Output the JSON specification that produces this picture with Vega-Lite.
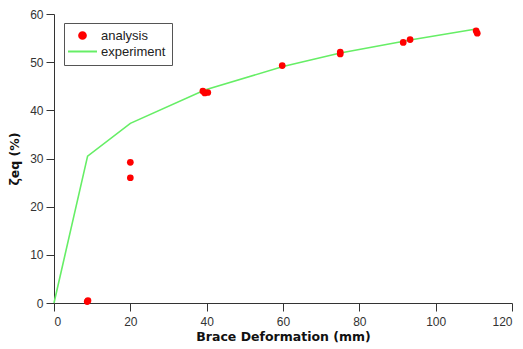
{
  "$schema": "https://vega.github.io/schema/vega-lite/v6.json",
  "autosize": "none",
  "width": 458,
  "height": 289,
  "padding": {"left": 54, "top": 14, "right": 11, "bottom": 46},
  "background": "white",
  "config": {
    "view": {"stroke": null},
    "font": "Liberation Sans",
    "axis": {
      "grid": false,
      "domainColor": "#333333",
      "tickColor": "#333333",
      "tickSize": 8,
      "labelColor": "#333333",
      "labelFontSize": 12,
      "labelFont": "Liberation Sans",
      "titleFont": "DejaVu Sans",
      "titleFontSize": 12.5,
      "titleFontWeight": "bold",
      "titleColor": "#111111"
    },
    "legend": {
      "title": null, "orient": "none", "legendX": 10, "legendY": 9,
      "strokeColor": "#555555", "padding": 6, "symbolOffset": 6,
      "labelFontSize": 13, "labelFont": "Liberation Sans", "labelColor": "#222222",
      "symbolSize": 841, "symbolStrokeWidth": 2, "labelOffset": 12, "rowPadding": 2,
      "fillColor": "white"
    }
  },
  "datasets": {
    "analysis": [
      {"x": 8.7, "y": 0.3, "series": "analysis"},
      {"x": 8.9, "y": 0.5, "series": "analysis"},
      {"x": 20.0, "y": 29.2, "series": "analysis"},
      {"x": 20.0, "y": 26.0, "series": "analysis"},
      {"x": 39.0, "y": 44.0, "series": "analysis"},
      {"x": 39.5, "y": 43.6, "series": "analysis"},
      {"x": 40.3, "y": 43.7, "series": "analysis"},
      {"x": 59.8, "y": 49.3, "series": "analysis"},
      {"x": 75.0, "y": 52.1, "series": "analysis"},
      {"x": 75.0, "y": 51.7, "series": "analysis"},
      {"x": 91.5, "y": 54.1, "series": "analysis"},
      {"x": 93.3, "y": 54.7, "series": "analysis"},
      {"x": 110.6, "y": 56.5, "series": "analysis"},
      {"x": 110.9, "y": 56.0, "series": "analysis"}
    ],
    "experiment": [
      {"x": 0, "y": 0, "series": "experiment"},
      {"x": 8.8, "y": 30.5, "series": "experiment"},
      {"x": 20.0, "y": 37.3, "series": "experiment"},
      {"x": 39.5, "y": 44.2, "series": "experiment"},
      {"x": 60.0, "y": 49.1, "series": "experiment"},
      {"x": 75.0, "y": 51.9, "series": "experiment"},
      {"x": 92.0, "y": 54.4, "series": "experiment"},
      {"x": 93.3, "y": 54.6, "series": "experiment"},
      {"x": 110.6, "y": 56.9, "series": "experiment"}
    ]
  },
  "layer": [
    {
      "data": {"name": "experiment"},
      "mark": {"type": "line", "strokeWidth": 1.6, "interpolate": "linear"},
      "encoding": {
        "x": {"field": "x", "type": "quantitative", "scale": {"domain": [0, 120]}, "axis": {"values": [0, 20, 40, 60, 80, 100, 120], "title": "Brace Deformation (mm)", "titlePadding": 3, "labelPadding": 5}},
        "y": {"field": "y", "type": "quantitative", "scale": {"domain": [0, 60]}, "axis": {"values": [0, 10, 20, 30, 40, 50, 60], "title": "ζeq (%)", "titlePadding": 8, "labelPadding": 3}},
        "color": {"field": "series", "type": "nominal", "scale": {"domain": ["analysis", "experiment"], "range": ["#ff0000", "#66ee66"]},
          "legend": {"labelExpr": "datum.label + '\u2003\u2003'", "encode": {"symbols": {"update": {"stroke": {"scale": "color", "field": "value"}, "opacity": {"value": 1}, "size": {"signal": "datum.value === 'experiment' ? 841 : 45"}}}}}}
      }
    },
    {
      "data": {"name": "analysis"},
      "mark": {"type": "point", "filled": true, "size": 45, "opacity": 1},
      "encoding": {
        "x": {"field": "x", "type": "quantitative"},
        "y": {"field": "y", "type": "quantitative"},
        "color": {"field": "series", "type": "nominal", "scale": {"domain": ["analysis", "experiment"], "range": ["#ff0000", "#66ee66"]},
          "legend": {"labelExpr": "datum.label + '\u2003\u2003'", "encode": {"symbols": {"update": {"stroke": {"scale": "color", "field": "value"}, "opacity": {"value": 1}, "size": {"signal": "datum.value === 'experiment' ? 841 : 45"}}}}}},
        "shape": {"field": "series", "type": "nominal", "scale": {"domain": ["analysis", "experiment"], "range": ["circle", "stroke"]},
          "legend": {"labelExpr": "datum.label + '\u2003\u2003'", "encode": {"symbols": {"update": {"stroke": {"scale": "color", "field": "value"}, "opacity": {"value": 1}, "size": {"signal": "datum.value === 'experiment' ? 841 : 45"}}}}}}
      }
    }
  ]
}
